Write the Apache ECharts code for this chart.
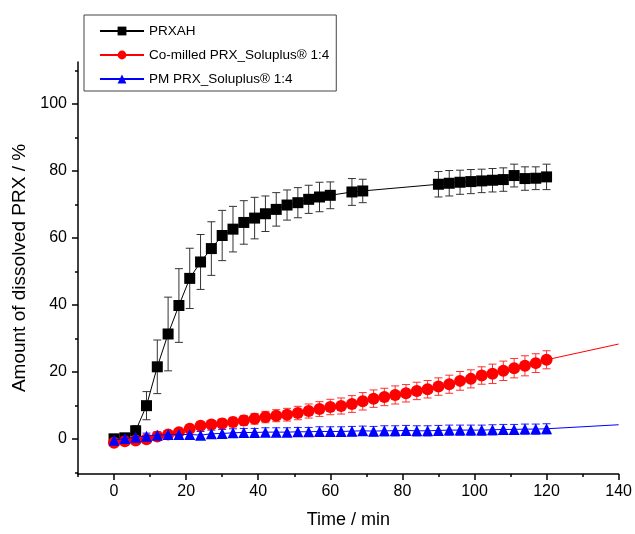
<!DOCTYPE html>
<html>
<head>
<meta charset="utf-8">
<script src="https://cdn.jsdelivr.net/npm/echarts@6/dist/echarts.min.js"></script>
<style>
  html, body { margin: 0; padding: 0; background: #fff; }
  #chart { width: 635px; height: 534px; }
</style>
</head>
<body>
<div id="chart"></div>
<script>
// PRXAH (pure drug)
const prxTime = [0, 3, 6, 9, 12, 15, 18, 21, 24, 27, 30, 33, 36, 39, 42, 45, 48, 51, 54, 57, 60, 66, 69,
    90, 93, 96, 99, 102, 105, 108, 111, 114, 117, 120];
const prxValue = [0, 0.3, 2.4, 9.9, 21.5, 31.3, 39.8, 47.9, 52.8, 56.8, 60.7, 62.6, 64.6, 65.9, 67.2, 68.5, 69.8, 70.5, 71.5, 72.2, 72.7, 73.7, 74.0,
    76.0, 76.3, 76.6, 76.8, 77.0, 77.2, 77.4, 78.6, 77.7, 77.8, 78.2];
const prxError = [0.3, 0.5, 1.5, 4.2, 8.0, 11.0, 11.0, 9.0, 8.2, 8.0, 7.5, 6.8, 6.5, 6.2, 5.3, 5.0, 4.5, 4.5, 4.2, 4.4, 4.0, 4.0, 3.5,
    3.8, 3.8, 3.6, 3.6, 3.5, 3.5, 3.5, 3.4, 3.5, 3.4, 3.8];

// Co-milled and physical mixture, sampled every 3 min
const mixTime = [0, 3, 6, 9, 12, 15, 18, 21, 24, 27, 30, 33, 36, 39, 42, 45, 48, 51, 54, 57, 60,
    63, 66, 69, 72, 75, 78, 81, 84, 87, 90, 93, 96, 99, 102, 105, 108, 111, 114, 117, 120];
const coMilledValue = [-1.2, -0.7, -0.5, -0.1, 0.7, 1.3, 2.0, 3.0, 3.9, 4.3, 4.6, 5.0, 5.5, 6.0, 6.5, 6.9, 7.2, 7.7, 8.3, 8.9, 9.5,
    9.8, 10.4, 11.2, 12.0, 12.5, 13.1, 13.6, 14.3, 14.8, 15.6, 16.3, 17.3, 17.9, 18.9, 19.4, 20.3, 21.1, 21.8, 22.6, 23.6];
const coMilledError = [0.4, 0.5, 0.5, 0.6, 0.7, 0.8, 0.9, 1.0, 1.1, 1.2, 1.3, 1.4, 1.5, 1.6, 1.7, 1.8, 1.9, 2.0, 2.1, 2.2, 2.3,
    2.4, 2.5, 2.6, 2.6, 2.6, 2.7, 2.6, 2.6, 2.6, 2.6, 2.7, 2.8, 2.7, 2.6, 2.9, 2.9, 2.9, 3.0, 2.8, 2.7];
const pmValue = [-0.4, 0.1, 0.5, 0.8, 1.1, 1.3, 1.3, 1.3, 1.1, 1.5, 1.6, 1.8, 1.9, 1.9, 2.0, 2.0, 2.0, 2.1, 2.1, 2.2, 2.2,
    2.2, 2.3, 2.4, 2.3, 2.4, 2.4, 2.5, 2.4, 2.4, 2.5, 2.6, 2.6, 2.6, 2.6, 2.7, 2.8, 2.8, 2.9, 2.9, 3.0];
const pmError = [0.8, 0.8, 0.9, 0.9, 1.0, 1.0, 1.0, 1.1, 1.1, 1.1, 1.2, 1.2, 1.2, 1.2, 1.3, 1.3, 1.3, 1.3, 1.3, 1.4, 1.4,
    1.4, 1.4, 1.4, 1.4, 1.5, 1.5, 1.5, 1.5, 1.5, 1.5, 1.5, 1.5, 1.5, 1.5, 1.5, 1.5, 1.5, 1.5, 1.5, 1.5];

// line extensions past the last sample
const coMilledTail = [[120, 23.6], [140, 28.3]];
const pmTail = [[120, 3.0], [140, 4.2]];

const xLabels = [0, 20, 40, 60, 80, 100, 120, 140];
const xMinor = [-10, 10, 30, 50, 70, 90, 110, 130];
const yLabels = [0, 20, 40, 60, 80, 100];
const yMinor = [-10, 10, 30, 50, 70, 90, 110];

const names = ['PRXAH', 'Co-milled PRX_Soluplus\u00ae 1:4', 'PM PRX_Soluplus\u00ae 1:4'];

function pairs(t, v) {
    return t.map((x, i) => [x, v[i]]);
}

function errorBars(name, t, v, e, color, z) {
    return {
        type: 'custom',
        name: name,
        z: z,
        silent: true,
        renderItem: function (params, api) {
            const hi = api.coord([api.value(0), api.value(1) + api.value(2)]);
            const lo = api.coord([api.value(0), api.value(1) - api.value(2)]);
            const w = 4;
            const style = {stroke: color, lineWidth: 1};
            return {
                type: 'group',
                children: [
                    {type: 'line', shape: {x1: hi[0], y1: hi[1], x2: lo[0], y2: lo[1]}, style: style},
                    {type: 'line', shape: {x1: hi[0] - w, y1: hi[1], x2: hi[0] + w, y2: hi[1]}, style: style},
                    {type: 'line', shape: {x1: lo[0] - w, y1: lo[1], x2: lo[0] + w, y2: lo[1]}, style: style},
                ],
            };
        },
        data: t.map((x, i) => [x, v[i], e[i]]),
    };
}

const axisText = {color: '#000', fontSize: 16, fontFamily: 'Liberation Sans'};
const titleText = {color: '#000', fontSize: 18, fontFamily: 'Liberation Sans'};

const chart = echarts.init(document.getElementById('chart'));
chart.setOption({
    animation: false,
    backgroundColor: '#fff',
    grid: {left: 78, right: 15, top: 62, bottom: 57},
    legend: {
        data: names,
        orient: 'vertical',
        left: 84,
        top: 15,
        padding: [9, 7, 5, 15],
        itemWidth: 44,
        itemHeight: 11,
        itemGap: 10,
        borderColor: '#444',
        borderWidth: 1,
        textStyle: {color: '#000', fontSize: 13.5, fontFamily: 'Liberation Sans'},
    },
    xAxis: [
        {
            type: 'value',
            min: -10,
            max: 140,
            name: 'Time / min',
            nameLocation: 'middle',
            nameGap: 37,
            nameTextStyle: titleText,
            axisLine: {onZero: false, lineStyle: {color: '#000', width: 1.5}},
            axisTick: {customValues: xLabels, length: 6, lineStyle: {color: '#000', width: 1.5}},
            axisLabel: Object.assign({customValues: xLabels, margin: 10}, axisText),
            splitLine: {show: false},
        },
        {
            type: 'value',
            min: -10,
            max: 140,
            position: 'bottom',
            axisLine: {show: false, onZero: false},
            axisTick: {customValues: xMinor, length: 3, lineStyle: {color: '#000', width: 1.5}},
            axisLabel: {show: false},
            splitLine: {show: false},
        },
    ],
    yAxis: [
        {
            type: 'value',
            min: -10.5,
            max: 112.5,
            name: 'Amount of dissolved PRX / %',
            nameLocation: 'middle',
            nameGap: 48,
            nameTextStyle: Object.assign({}, titleText, {fontSize: 19}),
            axisLine: {show: true, onZero: false, lineStyle: {color: '#000', width: 1.5}},
            axisTick: {show: true, customValues: yLabels, length: 6, lineStyle: {color: '#000', width: 1.5}},
            axisLabel: Object.assign({customValues: yLabels, margin: 11}, axisText),
            splitLine: {show: false},
        },
        {
            type: 'value',
            min: -10.5,
            max: 112.5,
            position: 'left',
            axisLine: {show: false, onZero: false},
            axisTick: {show: true, customValues: yMinor, length: 3, lineStyle: {color: '#000', width: 1.5}},
            axisLabel: {show: false},
            splitLine: {show: false},
        },
    ],
    series: [
        errorBars('err-prx', prxTime, prxValue, prxError, '#333', 2),
        errorBars('err-comilled', mixTime, coMilledValue, coMilledError, '#ff3030', 3),
        errorBars('err-pm', mixTime, pmValue, pmError, '#2020ff', 4),
        {
            type: 'line',
            name: 'tail-comilled',
            data: coMilledTail,
            symbol: 'none',
            lineStyle: {color: '#ff0000', width: 1},
            z: 3,
            silent: true,
        },
        {
            type: 'line',
            name: 'tail-pm',
            data: pmTail,
            symbol: 'none',
            lineStyle: {color: '#0000ff', width: 1},
            z: 4,
            silent: true,
        },
        {
            type: 'line',
            name: names[0],
            data: pairs(prxTime, prxValue),
            symbol: 'rect',
            symbolSize: 11,
            itemStyle: {color: '#000'},
            lineStyle: {color: '#000', width: 1},
            z: 5,
        },
        {
            type: 'line',
            name: names[1],
            data: pairs(mixTime, coMilledValue),
            symbol: 'circle',
            symbolSize: 12,
            itemStyle: {color: '#ff0000'},
            lineStyle: {color: '#ff0000', width: 1},
            z: 6,
        },
        {
            type: 'line',
            name: names[2],
            data: pairs(mixTime, pmValue),
            symbol: 'triangle',
            symbolSize: 11,
            itemStyle: {color: '#0000ff'},
            lineStyle: {color: '#0000ff', width: 1},
            z: 7,
        },
    ],
});
</script>
</body>
</html>
